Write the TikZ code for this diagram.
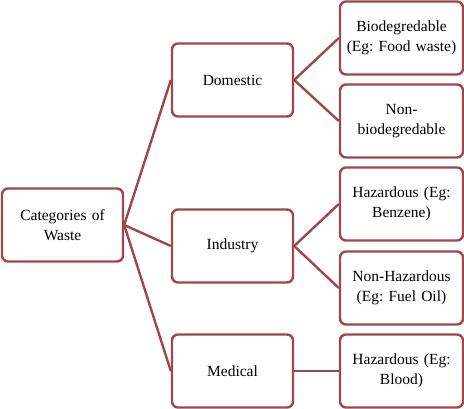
\documentclass[tikz,border=0pt]{standalone}
\usepackage{fontspec}
\setmainfont{Liberation Serif}
\usetikzlibrary{positioning}
\definecolor{edgecolor}{RGB}{158,72,76}
\frenchspacing

\begin{document}
\begin{tikzpicture}[x=1pt,y=-1pt]
\tikzstyle{cat} = [rectangle, draw=edgecolor, line width=2.4pt, fill=white, rounded corners=6pt, text width=117pt, align=center, minimum width=121pt, minimum height=73pt, inner sep=0pt, font=\fontsize{15.5}{20}\selectfont]
\tikzstyle{sub} = [cat, minimum width=123pt, text width=121pt]
\tikzstyle{connector} = [draw=edgecolor, line width=2.4pt]

\useasboundingbox (0,0) rectangle (464,408);

\node [cat] at (62.5,225) (waste) {Categories of\\Waste};
\node [cat] at (232.5,80) (dom) {Domestic};
\node [cat] at (232.5,246) (ind) {Industry};
\node [cat] at (232.5,371) (med) {Medical};
\node [sub] at (401.5,38) (bio) {Biodegredable\\(Eg: Food waste)};
\node [sub] at (401.5,121) (nbio) {Non-\\biodegredable};
\node [sub] at (401.5,204) (haz) {Hazardous (Eg:\\Benzene)};
\node [sub] at (401.5,288) (nhaz) {Non-Hazardous\\(Eg: Fuel Oil)};
\node [sub] at (401.5,371) (mhaz) {Hazardous (Eg:\\Blood)};

\path [connector] (waste.east) -- (dom.west);
\path [connector] (waste.east) -- (ind.west);
\path [connector] (waste.east) -- (med.west);
\path [connector] (dom.east) -- (bio.west);
\path [connector] (dom.east) -- (nbio.west);
\path [connector] (ind.east) -- (haz.west);
\path [connector] (ind.east) -- (nhaz.west);
\path [connector] (med.east) -- (mhaz.west);

\end{tikzpicture}
\end{document}
